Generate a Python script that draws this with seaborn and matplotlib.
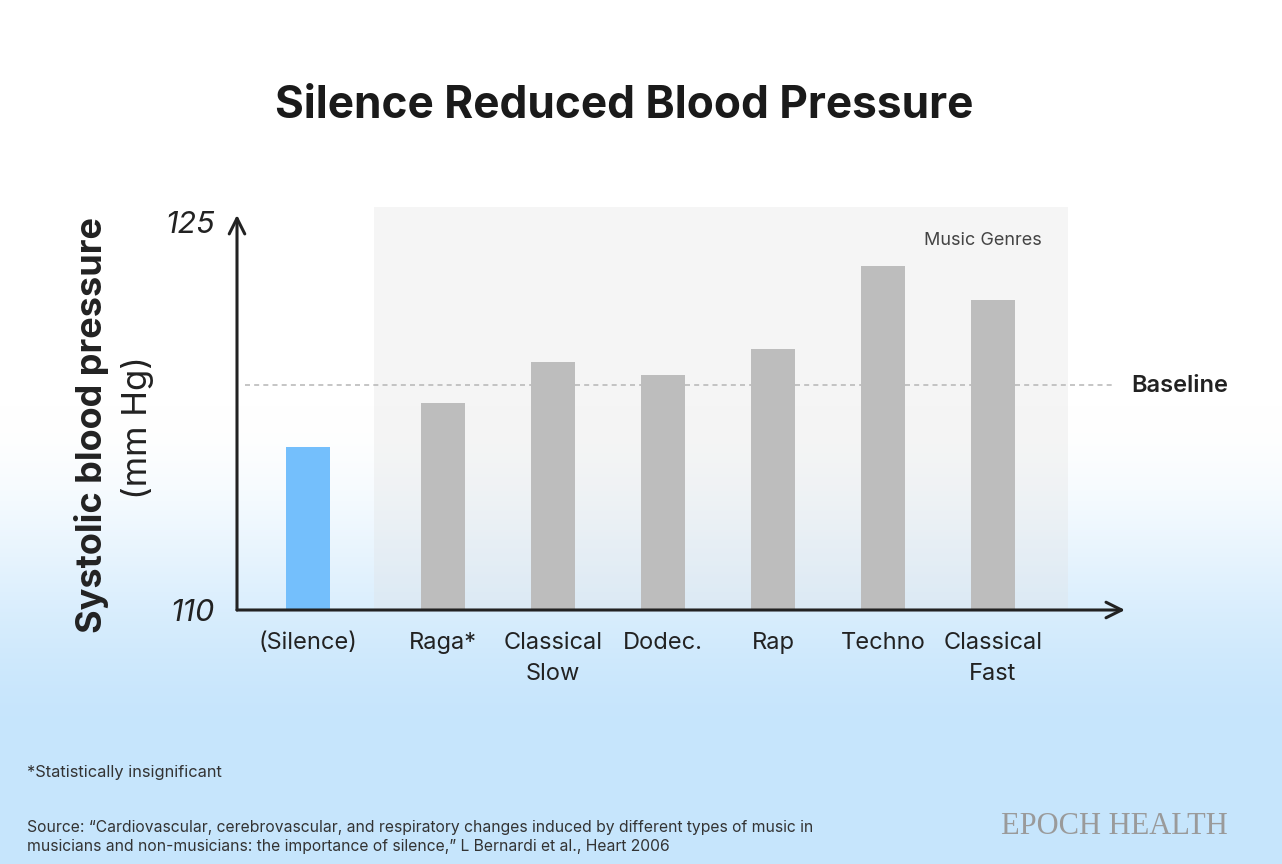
import numpy as np
import pandas as pd
import matplotlib
matplotlib.use("Agg")
import matplotlib.pyplot as plt
import seaborn as sns
from matplotlib.patches import Rectangle

# ---------------- data ----------------
categories = ["(Silence)", "Raga*", "Classical\nSlow", "Dodec.", "Rap", "Techno", "Classical\nFast"]
systolic = [116.3, 118.0, 119.6, 119.1, 120.1, 123.3, 122.0]
baseline_value = 118.7
y_ticks = [110, 125]
title = "Silence Reduced Blood Pressure"
group_label = "Music Genres"

# ---------------- layout / style ----------------
x_pos = [0, 1.23, 2.23, 3.23, 4.23, 5.23, 6.23]
bar_colors = ["#74bffc"] + ["#bdbdbd"] * 6

sns.set_theme(style="white")
plt.rcParams["font.family"] = ["Inter", "DejaVu Sans"]

fig = plt.figure(figsize=(12.82, 8.64), dpi=100)
fig.patch.set_facecolor("white")

# background gradient
bg = fig.add_axes([0, 0, 1, 1], zorder=-10)
h = 864
t = np.linspace(0, 1, h)
u = np.clip((t - 0.47) / (0.86 - 0.47), 0, 1)
s = u * u * (3 - 2 * u)
top = np.array([1.0, 1.0, 1.0])
bot = np.array([198, 229, 252]) / 255
grad = top[None, :] * (1 - s[:, None]) + bot[None, :] * s[:, None]
img = np.repeat(grad[:, None, :], 4, axis=1)
bg.imshow(img, aspect="auto", extent=[0, 1, 0, 1], origin="upper")
bg.set_axis_off()

ax = fig.add_axes([237 / 1282, 1 - 610 / 864, (1125 - 237) / 1282, (610 - 206.4) / 864])
ax.set_facecolor("none")

df = pd.DataFrame({"x": x_pos, "value": systolic, "cat": categories})
sns.barplot(data=df, x="x", y="value", hue="cat", palette=bar_colors, native_scale=True,
            width=0.4, dodge=False, legend=False, saturation=1, linewidth=0, ax=ax, zorder=2)

xmin, xmax = -0.645, 7.43
ax.set_xlim(xmin, xmax)
ax.set_ylim(110, 125.6)

# shaded music genres region
ax.add_patch(Rectangle((0.60, 110), 6.91 - 0.60, 15.58, facecolor=(0.88, 0.88, 0.88),
                       alpha=0.3, edgecolor="none", zorder=0.5, clip_on=False))

# baseline
ax.plot([-0.573, 7.31], [baseline_value, baseline_value], ls=(0, (3, 2.5)), color="#bbbbbb",
        lw=1.2, zorder=1, clip_on=False)
ax.text(7.49, baseline_value - 0.05, "Baseline", fontsize=17, fontweight="semibold", color="#222222",
        va="center", ha="left", clip_on=False)
ax.text(6.67, 124.3, group_label, fontsize=13, color="#444444", ha="right", va="center")

# axes arrows
for spine in ax.spines.values():
    spine.set_visible(False)
ax.annotate("", xy=(xmax, 110), xytext=(xmin, 110),
            arrowprops=dict(arrowstyle="->", lw=2.2, color="#222222", mutation_scale=28,
                            shrinkA=0, shrinkB=0), annotation_clip=False)
ax.annotate("", xy=(xmin, 125.27), xytext=(xmin, 110),
            arrowprops=dict(arrowstyle="->", lw=2.2, color="#222222", mutation_scale=28,
                            shrinkA=0, shrinkB=0), annotation_clip=False)

ax.set_xticks(x_pos)
ax.set_xticklabels(categories, fontsize=17, color="#222222", linespacing=1.5)
ax.set_yticks(y_ticks)
ax.set_yticklabels([str(v) for v in y_ticks], fontsize=22, fontstyle="italic",
                   fontweight="normal", color="#222222")
ax.tick_params(axis="x", length=0, pad=16)
ax.tick_params(axis="y", length=0, pad=16)
ax.set_xlabel("")
ax.set_ylabel("")
ax.grid(False)

# y-axis label
fig.text(92 / 1282, 1 - 425 / 864, "Systolic blood pressure", rotation=90, fontsize=26,
         fontweight="bold", color="#222222", ha="center", va="center")
fig.text(138 / 1282, 1 - 428 / 864, "(mm Hg)", rotation=90, fontsize=25,
         color="#222222", ha="center", va="center")

# title
fig.text(624 / 1282, 1 - 106 / 864, title, fontsize=31.8, fontweight="bold",
         color="#1a1a1a", ha="center", va="center")

# footer
fig.text(27 / 1282, 1 - 773 / 864, "*Statistically insignificant", fontsize=11.8,
         color="#333333", ha="left", va="center")
fig.text(27 / 1282, 1 - 837 / 864,
         "Source: \u201cCardiovascular, cerebrovascular, and respiratory changes induced by different types of music in\n"
         "musicians and non-musicians: the importance of silence,\u201d L Bernardi et al., Heart 2006",
         fontsize=11.3, color="#333333", ha="left", va="center", linespacing=1.3)
fig.text(1114 / 1282, 1 - 826 / 864, "EPOCH HEALTH", fontsize=22, color="#9a9a9a",
         ha="center", va="center", family=["Liberation Serif", "DejaVu Serif"])

fig.savefig("out.png", dpi=100)
